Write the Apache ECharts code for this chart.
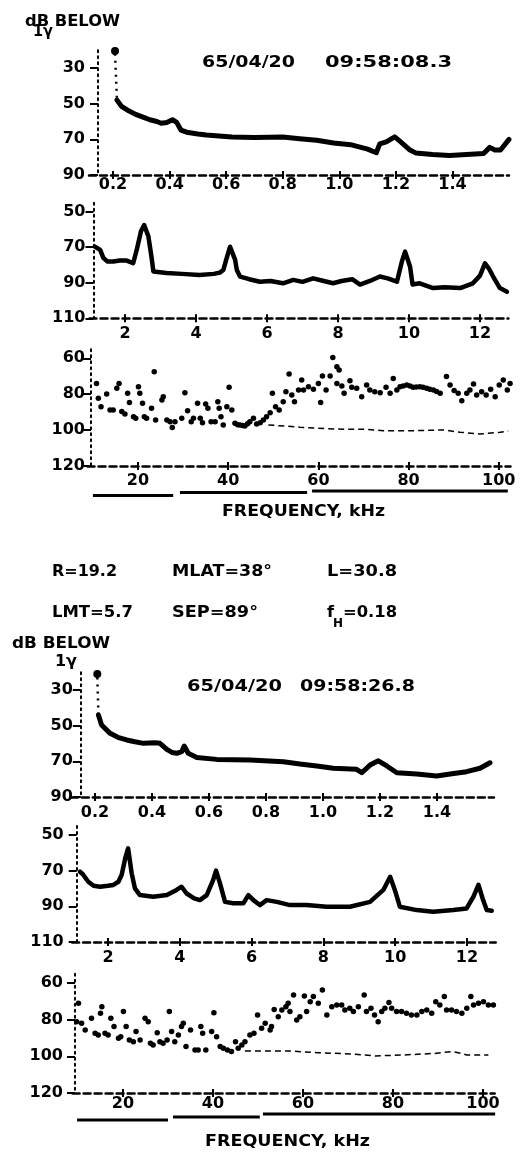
<!DOCTYPE html>
<html>
<head>
<meta charset="utf-8">
<script src="https://cdn.jsdelivr.net/npm/echarts@6/dist/echarts.min.js"></script>
<style>
  html, body { margin: 0; padding: 0; background: #fff; }
  #chart { width: 529px; height: 1152px; }
</style>
</head>
<body>
<div id="chart"></div>
<script>
// ---- data: [frequency kHz, dB below 1 gamma] ----
// pass 1 : 65/04/20 09:58:08.3
const peak1 = [[0.207, 20.5]]
const drop1 = [[0.207, 22], [0.214, 48]]
const low1 = [[0.214, 48], [0.23, 51.5], [0.25, 53.5], [0.28, 56], [0.306, 57.5], [0.33, 59], [0.355, 60], [0.37, 61], [0.39, 60.5], [0.41, 59], [0.425, 60.5], [0.44, 64.8], [0.46, 66], [0.5, 67], [0.53, 67.6], [0.62, 68.7], [0.7, 69], [0.8, 68.7], [0.86, 69.7], [0.92, 70.5], [0.98, 72], [1.04, 73], [1.1, 75.5], [1.131, 77.5], [1.143, 72.5], [1.166, 71.4], [1.196, 68.6], [1.214, 71], [1.25, 76], [1.27, 77.6], [1.33, 78.5], [1.39, 79], [1.45, 78.5], [1.51, 78], [1.532, 74.5], [1.55, 76], [1.57, 76], [1.6, 70]]
const mid1 = [[1.15, 69.7], [1.3, 71.5], [1.39, 76], [1.5, 78], [1.67, 78], [1.85, 77.5], [2.05, 77.5], [2.23, 79], [2.33, 71.5], [2.45, 61], [2.54, 57.5], [2.66, 64], [2.75, 76], [2.8, 83.7], [3.17, 84.5], [3.6, 85], [4.1, 85.6], [4.5, 85], [4.67, 84.3], [4.77, 82.8], [4.88, 75], [4.96, 69.7], [5.1, 77], [5.15, 82.8], [5.24, 86.5], [5.5, 88], [5.8, 89.4], [6.1, 89], [6.45, 90.3], [6.74, 88.4], [7.0, 89.5], [7.3, 87.5], [7.6, 89], [7.86, 90.3], [8.1, 89], [8.4, 88], [8.62, 91], [8.9, 89], [9.18, 86.5], [9.4, 87.5], [9.66, 89.4], [9.8, 78], [9.89, 72.5], [10.03, 81], [10.1, 91], [10.3, 90.3], [10.68, 93], [11.0, 92.5], [11.44, 93], [11.8, 90.3], [12.0, 86], [12.14, 79], [12.25, 82], [12.37, 86.5], [12.56, 93], [12.76, 95]]
const high1 = [[10.8, 74], [11.2, 82.3], [11.8, 87], [13.05, 79.9], [13.8, 88.8], [14.5, 88.8], [15.3, 76.7], [15.8, 74], [16.4, 89.7], [17.1, 91], [17.7, 79.5], [18.1, 84.7], [19, 92.5], [19.5, 93.4], [20.1, 75.8], [20.4, 79.5], [21, 85.1], [21.4, 92.5], [21.9, 93.4], [23, 87.9], [23.6, 67.5], [23.9, 94.4], [25.3, 83.2], [25.6, 81.4], [26.4, 94.4], [27.1, 95.3], [27.6, 98.5], [28.2, 95.3], [29.7, 93.4], [30.4, 79.2], [31, 89.2], [31.8, 95.3], [32.3, 93.4], [33.2, 85.1], [33.8, 93.4], [34.3, 95.9], [35, 85.5], [35.5, 87.9], [36.2, 95.3], [37.1, 95.3], [37.7, 84.2], [38, 87.9], [38.4, 92.5], [38.9, 97.2], [39.7, 87], [40.2, 76.2], [40.8, 88.8], [41.5, 96.2], [42.1, 97], [42.6, 97.2], [43.2, 97.5], [43.7, 97.7], [44.3, 96.5], [44.8, 95.3], [45.6, 93.4], [46.3, 96.6], [47.1, 95.9], [47.8, 94.4], [48.5, 92.5], [49.3, 90.3], [49.8, 79.5], [50.5, 87], [51.3, 88.8], [52.2, 84.2], [52.8, 78.6], [53.5, 68.7], [54.1, 80.4], [54.7, 84.2], [55.6, 77.7], [56.3, 72.1], [56.7, 77.7], [57.8, 75.8], [58.9, 77.3], [60, 74], [60.5, 84.7], [60.9, 69.9], [61.7, 77.7], [62.6, 69.9], [63.2, 59.5], [64.1, 64.7], [64.6, 66.5], [64.1, 74], [65.2, 75.4], [65.7, 79.5], [67, 72.5], [67.4, 76.2], [68.5, 76.7], [69.6, 81.4], [70.7, 74.9], [71.4, 77.7], [72.5, 78.6], [73.7, 79.2], [75, 76.2], [75.9, 79.5], [76.6, 71.2], [77.4, 77.7], [78.1, 75.8], [78.8, 75.5], [79.6, 74.9], [80.3, 75.5], [81, 76.2], [81.7, 76], [82.5, 75.8], [83.2, 76.2], [84, 76.7], [84.7, 77.2], [85.5, 77.7], [86.2, 78.5], [87, 79.5], [88.4, 70.2], [89.2, 74.9], [90.1, 78], [91, 79.5], [91.8, 83.6], [92.9, 79.5], [93.6, 77.7], [94.4, 74.3], [95.1, 80.4], [96.2, 78.6], [97.2, 80.4], [98.2, 77.3], [99.2, 81.4], [100.1, 74.9], [101, 72.1], [101.9, 77.7], [102.5, 74]]
const floor1 = [[48.9, 97.1], [51, 97.5], [55.9, 98.4], [63.3, 99.4], [70.7, 99.6], [74.4, 100.3], [81.8, 100.3], [87.7, 99.9], [91.4, 101.2], [95.8, 102.2], [100.3, 101.2], [102.1, 100.5]]
const bands1 = [[10.0, 27.8, 7], [29.3, 57.5, 5], [58.6, 102, 4]]

// pass 2 : 65/04/20 09:58:26.8
const peak2 = [[0.208, 21]]
const drop2 = [[0.208, 23], [0.212, 44]]
const low2 = [[0.212, 44], [0.223, 49.6], [0.253, 54.3], [0.28, 56.5], [0.311, 58], [0.34, 59], [0.37, 59.9], [0.41, 59.6], [0.428, 59.9], [0.452, 63.3], [0.47, 65], [0.487, 65.5], [0.504, 64.6], [0.513, 61.4], [0.527, 65.5], [0.557, 67.8], [0.627, 68.9], [0.744, 69.3], [0.861, 70.2], [0.919, 71.5], [0.978, 72.6], [1.036, 73.9], [1.118, 74.5], [1.136, 76.4], [1.165, 72.1], [1.194, 69.7], [1.224, 72.6], [1.259, 76.4], [1.329, 77.1], [1.399, 78.2], [1.446, 77.1], [1.504, 75.8], [1.551, 73.9], [1.586, 70.8]]
const mid2 = [[1.22, 70.6], [1.3, 72], [1.45, 76.2], [1.6, 78.5], [1.78, 79], [2.0, 78.5], [2.15, 78], [2.29, 76.2], [2.38, 72.4], [2.48, 63], [2.56, 57.5], [2.66, 71.5], [2.75, 79.9], [2.89, 83.7], [3.26, 84.6], [3.64, 83.7], [3.91, 80.8], [4.05, 79], [4.19, 82.8], [4.4, 85.5], [4.56, 86.5], [4.75, 83.7], [4.93, 75.2], [5.01, 70], [5.12, 77.1], [5.26, 87.5], [5.49, 88.3], [5.77, 88.3], [5.91, 83.7], [6.05, 86.5], [6.23, 89.3], [6.42, 86.5], [6.7, 87.5], [7.07, 89.3], [7.53, 89.3], [8.09, 90.2], [8.74, 90.2], [9.3, 87.5], [9.67, 80.8], [9.86, 73.4], [9.99, 80.8], [10.13, 90.2], [10.6, 92.1], [11.06, 93], [11.62, 92.1], [11.99, 91.2], [12.18, 84.6], [12.32, 78], [12.45, 86.5], [12.55, 92.1], [12.69, 92.5]]
const high2 = [[10.1, 71.1], [9.7, 81.1], [10.8, 82], [11.6, 85.6], [13, 79.3], [13.8, 87.4], [14.5, 88.4], [15.3, 72.9], [15, 76.5], [16, 87.4], [16.7, 88.4], [17.3, 79.3], [18, 83.8], [19, 90.2], [19.5, 89.3], [20.1, 75.6], [20.7, 83.8], [21.4, 91.1], [22.3, 92], [22.9, 86.5], [23.8, 91.1], [24.9, 79.3], [25.6, 81.1], [26.1, 92.9], [26.7, 93.8], [27.6, 87.1], [28.2, 92], [28.9, 92.9], [29.8, 91.1], [30.3, 75.6], [30.8, 86.5], [31.5, 92], [32.3, 88.4], [33, 83.8], [33.4, 82], [34, 94.7], [35, 85.6], [36, 96.5], [36.7, 96.5], [37.3, 83.8], [37.7, 87.4], [38.4, 96.5], [39.7, 86.5], [40.2, 76.2], [40.8, 89.3], [41.6, 94.7], [42.3, 95.6], [43.2, 96.5], [44.1, 97.4], [45, 92], [45.6, 95.6], [46.4, 93.8], [47.1, 92], [48.2, 88.4], [49.1, 87.4], [49.9, 77.4], [50.8, 84.7], [51.6, 82], [52.7, 85.6], [53, 83.8], [53.6, 74.4], [54.5, 78.4], [55.3, 74.7], [56.2, 72.9], [56.7, 71.1], [57.1, 75.6], [57.9, 66.5], [58.6, 80.2], [59.3, 78.4], [60.3, 67.1], [60.8, 75.6], [61.6, 70.2], [62.3, 67.4], [63.4, 71.1], [64.3, 63.8], [65.3, 77.4], [66.4, 72.9], [67.5, 72], [68.6, 72], [69.3, 74.7], [70.4, 73.8], [71.2, 75.6], [72.3, 72.9], [73.6, 66.5], [74.1, 75.6], [75.1, 73.8], [75.9, 77.5], [76.7, 81.1], [77.5, 75.6], [78.2, 73.8], [79.1, 70.7], [79.7, 73.8], [80.8, 75.6], [81.9, 75.6], [83, 76.5], [84.1, 77.4], [85.3, 77.4], [86.4, 75.6], [87.5, 74.7], [88.6, 76.5], [89.5, 70.2], [90.4, 72], [91.4, 67.4], [91.9, 74.7], [93, 74.7], [94.1, 75.6], [95.3, 76.5], [96.4, 73.8], [97.3, 67.4], [97.9, 72], [99, 71.1], [100.1, 70.2], [101.2, 72], [102.3, 72]]
const floor2 = [[47.1, 97.1], [57.1, 97.1], [63.4, 98], [70.8, 98.7], [76, 99.8], [81.9, 99.3], [89.3, 98.4], [93, 97.4], [94.5, 98], [96.4, 99.3], [101.2, 99.3]]
const bands2 = [[9.8, 30, 8], [31.1, 50.4, 6], [51.1, 102.7, 4]]

// tick labels
const lowTicks = [0.2, 0.4, 0.6, 0.8, 1.0, 1.2, 1.4]
const midTicks = [2, 4, 6, 8, 10, 12]
const highTicks = [20, 40, 60, 80, 100]
const lowDb = [30, 50, 70, 90]
const midDb = [50, 70, 90, 110]
const highDb = [60, 80, 100, 120]

const FONT = '"DejaVu Sans", sans-serif'
const chart = echarts.init(document.getElementById('chart'))

// grids: 3 panels + band strip per pass
const grids = [
  { left: 89, right: 20, top: 50.2, height: 124.8 },
  { left: 89.5, right: 20.6, top: 202.8, height: 115.5 },
  { left: 87.5, right: 18.5, top: 349.3, height: 116.7 },
  { left: 87.5, right: 18.5, top: 485, height: 15 },
  { left: 70.8, right: 35, top: 672.2, height: 124.8 },
  { left: 72.1, right: 33.3, top: 826.1, height: 115.9 },
  { left: 72.6, right: 34.3, top: 973.8, height: 119.2 },
  { left: 72.6, right: 34.3, top: 1108, height: 15 }
]

function xAx(gi, min, max, ticks, digits, margin) {
  return {
    type: 'value', gridIndex: gi, min: min, max: max, position: 'bottom',
    axisLine: { onZero: false, lineStyle: { color: '#000', width: 2.5, type: [7, 4] } },
    axisTick: { customValues: ticks, length: 4, lineStyle: { color: '#000', width: 2 } },
    axisLabel: {
      customValues: ticks, margin: margin, color: '#000', fontSize: 16, fontWeight: 'bold', fontFamily: FONT,
      formatter: v => v.toFixed(digits)
    },
    splitLine: { show: false }
  }
}
// second axis on the same baseline: upper half of the "+" tick marks
function xCross(gi, min, max, ticks) {
  return {
    type: 'value', gridIndex: gi, min: min, max: max, position: 'bottom',
    axisLine: { show: false, onZero: false },
    axisTick: { customValues: ticks, inside: true, length: 4, lineStyle: { color: '#000', width: 2 } },
    axisLabel: { show: false },
    splitLine: { show: false }
  }
}
function yAx(gi, min, max, ticks, offset, margin) {
  return {
    type: 'value', gridIndex: gi, min: min, max: max, inverse: true, offset: offset,
    axisLine: { show: true, onZero: false, lineStyle: { color: '#000', width: 2, type: [2, 4] } },
    axisTick: { customValues: ticks, length: 8, lineStyle: { color: '#000', width: 2 } },
    axisLabel: { customValues: ticks, margin: margin, color: '#000', fontSize: 16, fontWeight: 'bold', fontFamily: FONT },
    splitLine: { show: false }
  }
}
function hidden(gi, min, max, inverse) {
  return { type: 'value', gridIndex: gi, min: min, max: max, inverse: inverse, show: false, splitLine: { show: false } }
}

const xAxis = [
  xAx(0, 0.115, 1.6, lowTicks, 1, 2),
  xAx(1, 1.0, 12.8, midTicks, 0, 8),
  xAx(2, 8.8, 102.6, highTicks, 0, 7),
  hidden(3, 8.8, 102.6, false),
  xAx(4, 0.115, 1.6, lowTicks, 1, 8),
  xAx(5, 1.0, 12.8, midTicks, 0, 8),
  xAx(6, 8.8, 102.6, highTicks, 0, 3),
  hidden(7, 8.8, 102.6, false),
  xCross(0, 0.115, 1.6, lowTicks),
  xCross(1, 1.0, 12.8, midTicks),
  xCross(2, 8.8, 102.6, highTicks),
  xCross(4, 0.115, 1.6, lowTicks),
  xCross(5, 1.0, 12.8, midTicks),
  xCross(6, 8.8, 102.6, highTicks)
]
const yAxis = [
  yAx(0, 20, 90, lowDb, -9, 13),
  yAx(1, 45, 110, midDb, -4, 8),
  yAx(2, 55, 120, highDb, -3.5, 6),
  hidden(3, 0, 10, true),
  yAx(4, 20, 90, lowDb, -10, 8),
  yAx(5, 45, 110, midDb, -4.6, 13),
  yAx(6, 55, 120, highDb, -2.4, 12),
  hidden(7, 0, 10, true)
]

function trace(gi, data, width) {
  return { type: 'line', xAxisIndex: gi, yAxisIndex: gi, data: data, symbol: 'none', smooth: false,
    lineStyle: { color: '#000', width: width, join: 'round', cap: 'round' } }
}
function dotted(gi, data) {
  return { type: 'line', xAxisIndex: gi, yAxisIndex: gi, data: data, symbol: 'none',
    lineStyle: { color: '#000', width: 2.5, type: [2, 5] } }
}
function dots(gi, data, size) {
  return { type: 'scatter', xAxisIndex: gi, yAxisIndex: gi, data: data, symbolSize: size,
    itemStyle: { color: '#000', opacity: 1 } }
}
function floor(gi, data) {
  return { type: 'line', xAxisIndex: gi, yAxisIndex: gi, data: data, symbol: 'none',
    lineStyle: { color: '#000', width: 1.5, type: [6, 4] } }
}
function bandLines(gi, bands) {
  return bands.map(b => ({ type: 'line', xAxisIndex: gi, yAxisIndex: gi, symbol: 'none',
    data: [[b[0], b[2]], [b[1], b[2]]], lineStyle: { color: '#000', width: 3 } }))
}

const series = [
  dotted(0, drop1), dots(0, peak1, 8), trace(0, low1, 5),
  trace(1, mid1, 4.5),
  floor(2, floor1), dots(2, high1, 5.5),
  ...bandLines(3, bands1),
  dotted(4, drop2), dots(4, peak2, 8), trace(4, low2, 5),
  trace(5, mid2, 4.5),
  floor(6, floor2), dots(6, high2, 5.5),
  ...bandLines(7, bands2)
]

// text, stretched to the width of the hand lettering
const ctx = document.createElement('canvas').getContext('2d')
function label(text, x, y, w, size) {
  const font = 'bold ' + (size || 16) + 'px ' + FONT
  ctx.font = font
  const sx = w / ctx.measureText(text).width
  return { type: 'text', x: x, y: y, scaleX: sx, silent: true, z: 10,
    style: { text: text, font: font, fill: '#000', align: 'left', verticalAlign: 'middle' } }
}
const graphic = [
  label('dB BELOW', 25, 22, 95),
  label('1γ', 33, 32, 20),
  label('65/04/20', 202, 63.3, 93),
  label('09:58:08.3', 325, 63.3, 127),
  label('FREQUENCY, kHz', 222, 512, 163),
  label('R=19.2', 52, 572, 65),
  label('MLAT=38°', 172, 572, 100),
  label('L=30.8', 327, 572, 70),
  label('LMT=5.7', 52, 613, 81),
  label('SEP=89°', 172, 613, 86),
  label('f', 327, 613, 7),
  label('H', 333, 624, 10, 12),
  label('=0.18', 343, 613, 54),
  label('dB BELOW', 12, 644, 98),
  label('1γ', 55, 662, 22),
  label('65/04/20', 187, 687, 95),
  label('09:58:26.8', 300, 687, 115),
  label('FREQUENCY, kHz', 205, 1142, 165)
]

chart.setOption({
  backgroundColor: '#fff',
  animation: false,
  grid: grids,
  xAxis: xAxis,
  yAxis: yAxis,
  series: series,
  graphic: graphic
})
</script>
</body>
</html>
